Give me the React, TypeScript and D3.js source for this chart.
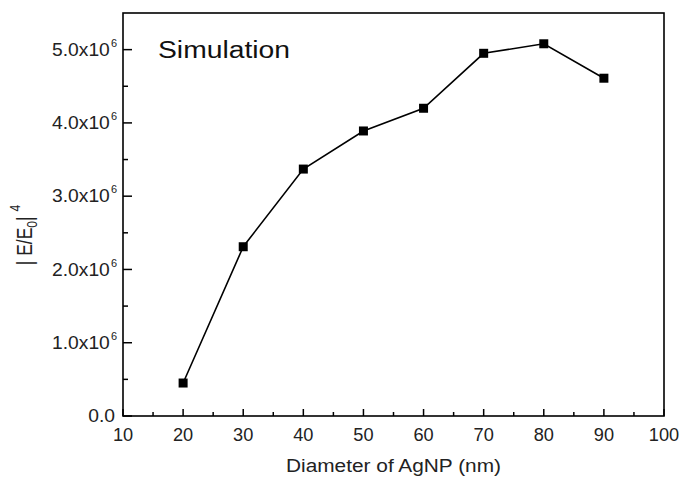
import React from "react";
import * as d3 from "d3";

const diameters = [20, 30, 40, 50, 60, 70, 80, 90];
const enhancement = [0.45e6, 2.31e6, 3.37e6, 3.89e6, 4.2e6, 4.95e6, 5.08e6, 4.61e6];
const xTicks = [10, 20, 30, 40, 50, 60, 70, 80, 90, 100];
const yTicks = [0, 1e6, 2e6, 3e6, 4e6, 5e6];

const W = 681;
const H = 481;
const M = { left: 123, right: 664, top: 13, bottom: 416 };
const FONT = "Liberation Sans, Arial, sans-serif";
const TICK_FS = 17.5;

export default function App() {
  const x = d3.scaleLinear().domain([10, 100]).range([M.left, M.right]);
  const y = d3.scaleLinear().domain([0, 5.5e6]).range([M.bottom, M.top]);
  const pts: [number, number][] = diameters.map((d, i) => [d, enhancement[i]]);
  const line = d3
    .line<[number, number]>()
    .x((d) => x(d[0]))
    .y((d) => y(d[1]));

  const xMinor = d3.range(15, 100, 10);
  const yMinor = d3.range(0.5e6, 5.5e6, 1e6);

  return (
    <svg
      width={W}
      height={H}
      style={{ position: "absolute", left: 0, top: 0, background: "#fff" }}
      fontFamily={FONT}
    >
      <rect x={0} y={0} width={W} height={H} fill="#fff" />
      {/* frame */}
      <rect
        x={M.left}
        y={M.top}
        width={M.right - M.left}
        height={M.bottom - M.top}
        fill="none"
        stroke="#000"
        strokeWidth={1.6}
      />
      {/* x ticks */}
      {xTicks.map((t) => (
        <g key={"xt" + t}>
          <line x1={x(t)} x2={x(t)} y1={M.bottom} y2={M.bottom - 7} stroke="#000" strokeWidth={1.5} />
          <text
            transform={`translate(${x(t)},${M.bottom + 25}) scale(1.04,1)`}
            fontSize={TICK_FS}
            textAnchor="middle"
            fill="#222"
          >
            {t}
          </text>
        </g>
      ))}
      {xMinor.map((t) => (
        <line key={"xm" + t} x1={x(t)} x2={x(t)} y1={M.bottom} y2={M.bottom - 4} stroke="#000" strokeWidth={1.5} />
      ))}
      {/* y ticks */}
      {yTicks.map((t) => (
        <g key={"yt" + t}>
          <line x1={M.left} x2={M.left + 9} y1={y(t)} y2={y(t)} stroke="#000" strokeWidth={1.5} />
          {t === 0 ? (
            <text
              transform={`translate(${M.left - 8},${y(t) + 6.3}) scale(1.1,1)`}
              fontSize={TICK_FS}
              textAnchor="end"
              fill="#222"
            >
              0.0
            </text>
          ) : (
            <text
              transform={`translate(${M.left - 6},${y(t) + 6.3}) scale(1.1,1)`}
              fontSize={TICK_FS}
              textAnchor="end"
              fill="#222"
            >
              {(t / 1e6).toFixed(1) + "x10"}
              <tspan fontSize={10} dy={-9} dx={1}>
                6
              </tspan>
            </text>
          )}
        </g>
      ))}
      {yMinor.map((t) => (
        <line key={"ym" + t} x1={M.left} x2={M.left + 5} y1={y(t)} y2={y(t)} stroke="#000" strokeWidth={1.5} />
      ))}
      {/* data */}
      <path d={line(pts) || ""} fill="none" stroke="#000" strokeWidth={1.6} />
      {pts.map((p, i) => (
        <rect key={"p" + i} x={x(p[0]) - 4.5} y={y(p[1]) - 4.5} width={9} height={9} fill="#000" />
      ))}
      {/* annotation */}
      <text x={158} y={58} fontSize={23} fill="#111" textLength={132} lengthAdjust="spacingAndGlyphs">
        Simulation
      </text>
      {/* axis titles */}
      <text
        x={393.5}
        y={472}
        fontSize={TICK_FS}
        textAnchor="middle"
        fill="#222"
        textLength={215}
        lengthAdjust="spacingAndGlyphs"
      >
        Diameter of AgNP (nm)
      </text>
      <text transform="translate(32,235) rotate(-90) scale(1,1.25)" fontSize={TICK_FS} textAnchor="middle" fill="#222">
        {"| E/E"}
        <tspan fontSize={12} dy={4}>
          0
        </tspan>
        <tspan dy={-4}>{"|"}</tspan>
        <tspan fontSize={12} dy={-10} dx={5}>
          4
        </tspan>
      </text>
    </svg>
  );
}
